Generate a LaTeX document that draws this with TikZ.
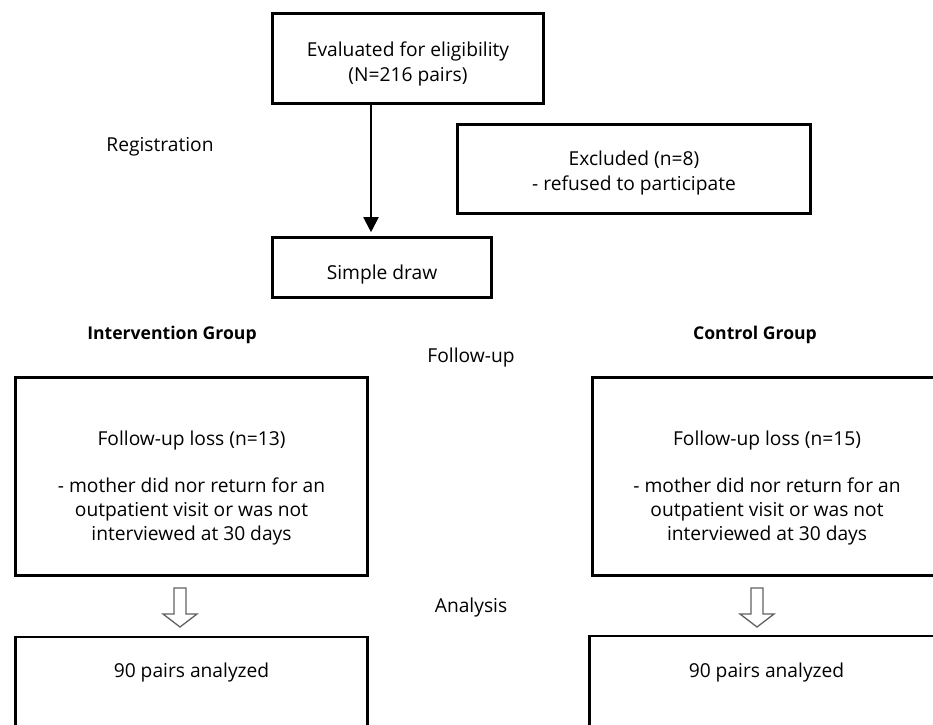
\documentclass[tikz,border=0pt]{standalone}
\usepackage{fontspec}
\setmainfont{Open Sans}
\usetikzlibrary{arrows.meta}
\begin{document}
\begin{tikzpicture}[x=1pt,y=-1pt,
  box/.style={draw=black, line width=2.6pt, inner sep=0pt},
  txt/.style={align=center, inner sep=0pt, font=\fontsize{19.2}{24.3}\selectfont},
  lbl/.style={inner sep=0pt, font=\fontsize{19.2}{24.3}\selectfont},
  blbl/.style={inner sep=0pt, font=\fontsize{17.6}{22}\selectfont\bfseries},
  flow/.style={line width=2pt, -{Triangle[width=15pt,length=15pt]}},
  hollow/.style={draw=black!62, line width=1.3pt, fill=white, line join=miter}]
\useasboundingbox (0,0) rectangle (933,724);
% boxes
\node[box, minimum width=271, minimum height=90] (elig) at (408,58.5) {};
\node[txt] (eligT) at (408,64) {Evaluated for eligibility\\(N=216 pairs)};
\node[box, minimum width=353, minimum height=89] (excl) at (634,169) {};
\node[txt] (exclT) at (634,173) {Excluded (n=8)\\- refused to participate};
\node[box, minimum width=219, minimum height=60] (simple) at (382,267.5) {};
\node[txt] (simpleT) at (382,275) {Simple draw};
\node[box, minimum width=352, minimum height=198] (lossL) at (191.5,476.5) {};
\node[txt] (lossLT) at (191.5,488) {Follow-up loss (n=13)\\[23pt]- mother did nor return for an\\outpatient visit or was not\\interviewed at 30 days};
\node[box, minimum width=349, minimum height=198] (lossR) at (767,476.5) {};
\node[txt] (lossRT) at (767,488) {Follow-up loss (n=15)\\[23pt]- mother did nor return for an\\outpatient visit or was not\\interviewed at 30 days};
\node[box, minimum width=352, minimum height=110] (anaL) at (191.5,692) {};
\node[txt] (anaLT) at (191.5,672) {90 pairs analyzed};
\node[box, minimum width=354, minimum height=110] (anaR) at (766.5,691) {};
\node[txt] (anaRT) at (766.5,672) {90 pairs analyzed};
% labels
\node[lbl] (reg) at (160,147) {Registration};
\node[lbl] (fu) at (471,358) {Follow-up};
\node[lbl] (an) at (471,607) {Analysis};
\node[blbl] (ig) at (172,335) {Intervention Group};
\node[blbl] (cg) at (755,335) {Control Group};
% main arrow
\coordinate (ax) at (371,0);
\draw[flow, shorten >=4pt] (elig.south -| ax) -- (simple.north -| ax);
% hollow arrows
\coordinate (hL) at (180,588);
\coordinate (hR) at (757,588);
\draw[hollow] (hL) ++(-6,0) -- ++(12,0) -- ++(0,26) -- ++(11,0) -- ++(-17,13) -- ++(-17,-13) -- ++(11,0) -- cycle;
\draw[hollow] (hR) ++(-6,0) -- ++(12,0) -- ++(0,26) -- ++(11,0) -- ++(-17,13) -- ++(-17,-13) -- ++(11,0) -- cycle;
\end{tikzpicture}
\end{document}
